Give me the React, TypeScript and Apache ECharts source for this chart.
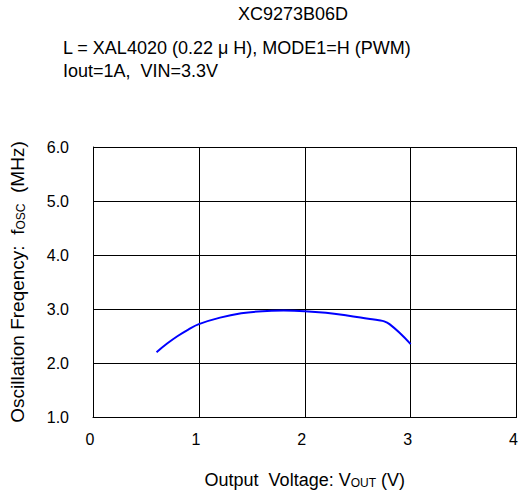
import React, { useEffect, useRef } from "react";
import * as echarts from "echarts";

const titleText = "XC9273B06D";
const conditionLines = ["L = XAL4020 (0.22 μ H), MODE1=H (PWM)", "Iout=1A,  VIN=3.3V"];

const vout = [0.6, 0.7, 0.8, 0.9, 1.0, 1.2, 1.4, 1.6, 1.8, 2.0, 2.2, 2.4, 2.6, 2.7, 2.75, 2.8, 2.9, 3.0];
const fosc = [2.2, 2.36, 2.5, 2.62, 2.72, 2.84, 2.92, 2.96, 2.97, 2.96, 2.93, 2.88, 2.82, 2.79, 2.77, 2.72, 2.55, 2.35];

const FONT = "'Liberation Sans', Arial, sans-serif";

export default function App() {
  const ref = useRef<HTMLDivElement>(null);
  useEffect(() => {
    if (!ref.current) return;
    const chart = echarts.init(ref.current, undefined, { renderer: "svg" });
    const sub = { fontSize: 12, fontFamily: FONT, color: "#000", verticalAlign: "bottom", padding: [7, 0, 0, 0] };
    chart.setOption({
      animation: false,
      backgroundColor: "#fff",
      graphic: [
        { type: "text", left: 238, top: 5, style: { text: titleText, font: `18px ${FONT}`, fill: "#000" } },
        { type: "text", left: 63, top: 39, style: { text: conditionLines[0], font: `18px ${FONT}`, fill: "#000" } },
        { type: "text", left: 63, top: 62, style: { text: conditionLines[1], font: `18px ${FONT}`, fill: "#000" } },
      ],
      grid: { left: 92, right: 4, top: 147, bottom: 77, containLabel: false },
      xAxis: {
        type: "value",
        min: 0,
        max: 4,
        interval: 1,
        name: "Output  Voltage: V{sub|OUT} (V)",
        nameLocation: "middle",
        nameGap: 53,
        nameTextStyle: { color: "#000", fontFamily: FONT, fontSize: 18, rich: { sub } },
        axisLine: { lineStyle: { color: "#000", width: 1 } },
        axisTick: { show: false },
        axisLabel: { color: "#000", fontFamily: FONT, fontSize: 16, margin: 14, padding: [0, 6, 0, 0] },
        splitLine: { show: true, lineStyle: { color: "#000", width: 1 } },
      },
      yAxis: {
        type: "value",
        min: 1,
        max: 6,
        interval: 1,
        name: "Oscillation Freqency:  f{sub|OSC}  (MHz)",
        nameLocation: "middle",
        nameGap: 66,
        nameTextStyle: { color: "#000", fontFamily: FONT, fontSize: 19, rich: { sub } },
        axisLine: { show: true, lineStyle: { color: "#000", width: 1 } },
        axisTick: { show: false },
        axisLabel: { color: "#000", fontFamily: FONT, fontSize: 16, margin: 24, formatter: (v: number) => v.toFixed(1) },
        splitLine: { show: true, lineStyle: { color: "#000", width: 1 } },
      },
      series: [
        {
          type: "line",
          data: vout.map((x, i) => [x, fosc[i]]),
          smooth: 0.4,
          showSymbol: false,
          lineStyle: { color: "#0000ff", width: 2 },
        },
      ],
    });
    return () => chart.dispose();
  }, []);
  return <div ref={ref} style={{ width: 521, height: 494, position: "absolute", left: 0, top: 0 }} />;
}
